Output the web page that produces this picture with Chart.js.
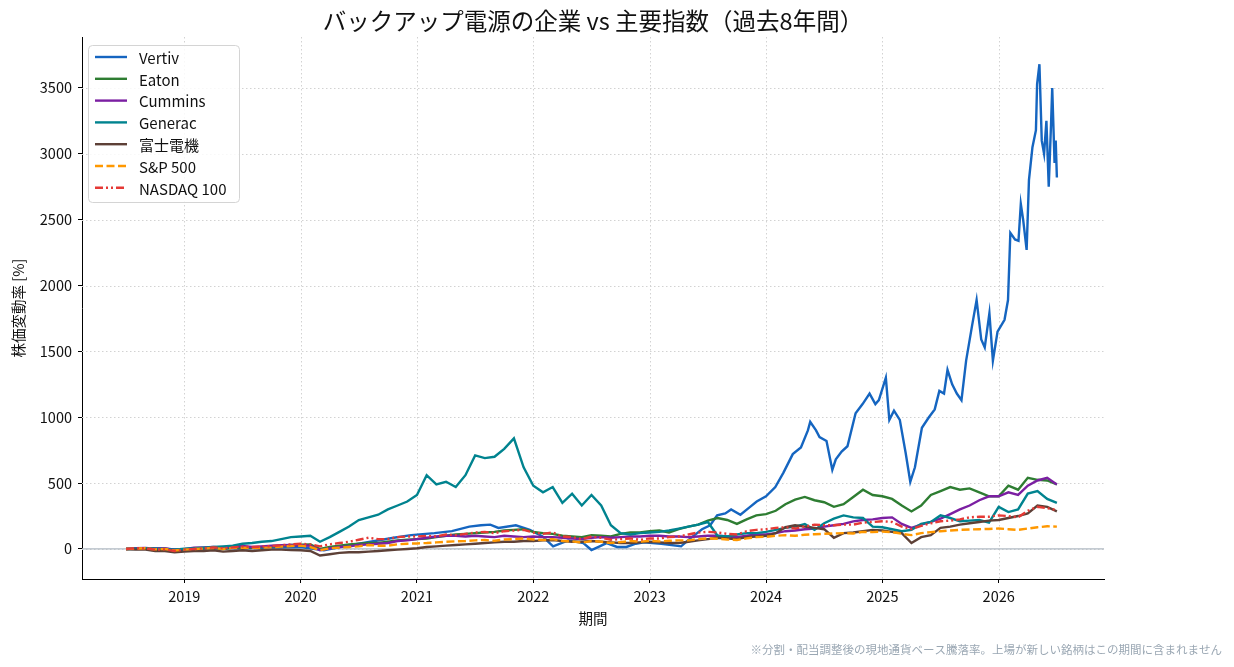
<!DOCTYPE html>
<html lang="ja">
<head>
<meta charset="utf-8">
<title>バックアップ電源の企業 vs 主要指数</title>
<script src="https://cdn.jsdelivr.net/npm/chart.js@4.4.1/dist/chart.umd.min.js"></script>
<style>
  html, body { margin: 0; padding: 0; background: #fff; }
  #wrap { width: 1234px; height: 667px; }
</style>
</head>
<body>
<div id="wrap"><canvas id="grafico" width="1234" height="667"></canvas></div>
<script>
// Eixo de tempo mensal: jul/2018 .. jul/2026 (anos decimais)
const meses = [];
for (let i = 0; i <= 96; i++) meses.push(2018.5 + i / 12);

const anosTicks = [2019, 2020, 2021, 2022, 2023, 2024, 2025, 2026];
const valoresTicksY = [0, 500, 1000, 1500, 2000, 2500, 3000, 3500];

// Vertiv tem mais pontos (muito volátil no fim)
const vertivDatas = [
  2018.5, 2018.75, 2018.96, 2019.25, 2019.5, 2019.75, 2020.0, 2020.2, 2020.4, 2020.6,
  2020.8, 2020.95, 2021.15, 2021.3, 2021.45, 2021.55, 2021.63, 2021.7, 2021.85, 2021.97,
  2022.08, 2022.17, 2022.3, 2022.43, 2022.5, 2022.57, 2022.63, 2022.72, 2022.8, 2022.88,
  2022.95, 2023.1, 2023.27, 2023.35, 2023.45, 2023.52, 2023.58, 2023.65, 2023.7, 2023.78,
  2023.85, 2023.92, 2024.0, 2024.08, 2024.15, 2024.23, 2024.3, 2024.36, 2024.38, 2024.43,
  2024.46, 2024.52, 2024.57, 2024.6, 2024.65, 2024.7, 2024.77, 2024.83, 2024.89, 2024.94,
  2024.97, 2025.03, 2025.06, 2025.1, 2025.15, 2025.2, 2025.24, 2025.28, 2025.34, 2025.4,
  2025.45, 2025.49, 2025.53, 2025.56, 2025.6, 2025.64, 2025.68, 2025.72, 2025.77, 2025.81,
  2025.85, 2025.88, 2025.92, 2025.95, 2025.99, 2026.05, 2026.08, 2026.1, 2026.14, 2026.17,
  2026.19, 2026.21, 2026.24, 2026.26, 2026.29, 2026.32, 2026.33, 2026.35, 2026.37, 2026.39,
  2026.41, 2026.43, 2026.45, 2026.46, 2026.48, 2026.49, 2026.5
];
const vertivValores = [
  0, 3, -5, 5, 5, 10, 15, -10, 25, 55,
  85, 105, 120, 135, 170, 180, 185, 160, 180, 145,
  95, 20, 65, 45, -8, 20, 45, 15, 15, 40,
  50, 40, 20, 80, 150, 180, 255, 270, 300, 260,
  310, 360, 400, 470, 580, 720, 770, 900, 965, 900,
  850, 820, 600, 680, 740, 780, 1030, 1100, 1180, 1100,
  1130, 1300, 980, 1050, 980, 730, 510, 620, 920, 1000,
  1060, 1200, 1180, 1360, 1250, 1180, 1130, 1430, 1690, 1890,
  1590, 1530, 1790, 1430, 1650, 1740, 1890, 2400, 2350, 2340,
  2620, 2500, 2270, 2800, 3050, 3180, 3530, 3680, 3100, 3000,
  3250, 2750, 3230, 3500, 2930, 3100, 2820
];

// Séries mensais (97 valores cada)
const eaton = [
  0, 2, 5, 0, -3, -10,
  -5, 0, 5, 8, 0, 10, 12, 10, 15, 20, 25, 30,
  32, 35, 0, 15, 25, 35, 40, 45, 45, 55, 65, 70,
  75, 80, 90, 100, 110, 115, 120, 125, 130, 140, 145, 150,
  130, 120, 115, 100, 95, 90, 105, 100, 95, 115, 125, 125,
  135, 140, 125, 150, 170, 185, 215, 235, 220, 190, 225, 255,
  265, 290, 340, 375, 395, 370, 355, 320, 340, 395, 450, 410,
  400, 380, 330, 285, 330, 410, 440, 470, 450, 460, 430, 400,
  400, 480, 450, 540, 525, 520, 490
];
const cummins = [
  0, 5, 8, 3, 5, -5,
  -2, 10, 12, 15, 10, 18, 22, 15, 20, 25, 28, 30,
  28, 25, -10, 5, 15, 20, 30, 35, 40, 45, 60, 65,
  75, 85, 95, 100, 100, 95, 100, 95, 90, 100, 95, 90,
  95, 90, 90, 85, 80, 75, 85, 90, 85, 90, 95, 95,
  100, 100, 95, 95, 90, 95, 100, 100, 95, 90, 100, 110,
  110, 120, 135, 140, 150, 155, 170, 180, 190, 210, 220, 225,
  235, 240, 190, 160, 185, 205, 230, 265, 300, 330, 370, 400,
  400, 430, 410, 480, 520, 540, 490
];
const generac = [
  0, 3, 5, 2, 0, -5,
  2, 5, 10, 15, 20, 25, 40, 45, 55, 60, 75, 90,
  95, 100, 55, 90, 130, 170, 220, 240, 260, 300, 330, 360,
  410, 560, 490, 510, 470, 560, 710, 690, 700, 760, 840, 620,
  480, 430, 470, 350, 420, 330, 410, 330, 180, 120, 110, 120,
  125, 130, 140, 155, 170, 185, 205, 100, 95, 110, 120, 120,
  130, 145, 160, 170, 190, 145, 195, 230, 255, 240, 235, 170,
  165, 150, 135, 145, 190, 205, 255, 235, 210, 215, 220, 200,
  320, 280, 300, 420, 440, 380, 350
];
const fuji = [
  0, -5, -5, -15, -15, -25,
  -20, -15, -15, -10, -20, -15, -10, -15, -10, -5, -5, -8,
  -10, -15, -50, -40, -30, -25, -25, -20, -15, -10, -5, 0,
  5, 15, 20, 25, 30, 35, 40, 45, 50, 55, 55, 60,
  60, 65, 68, 60, 55, 55, 60, 55, 50, 45, 45, 50,
  55, 50, 45, 45, 55, 65, 75, 85, 80, 75, 90, 95,
  100, 120, 165, 180, 170, 160, 150, 85, 120, 125, 135, 145,
  140, 130, 120, 45, 90, 105, 160, 170, 185, 195, 205, 215,
  220, 235, 250, 270, 330, 320, 285
];
const sp500 = [
  0, 3, 5, -3, 0, -12,
  -5, 0, 3, 8, 0, 8, 10, 8, 10, 12, 18, 22,
  25, 15, -10, 5, 10, 15, 20, 30, 25, 25, 35, 40,
  42, 45, 50, 55, 58, 60, 65, 68, 62, 72, 75, 80,
  72, 68, 75, 60, 58, 48, 60, 55, 45, 52, 60, 55,
  62, 58, 62, 65, 65, 75, 80, 78, 72, 68, 80, 90,
  92, 100, 105, 100, 108, 112, 115, 118, 120, 118, 130, 128,
  132, 128, 115, 105, 120, 128, 135, 140, 145, 148, 150, 152,
  155, 150, 145, 155, 165, 172, 170
];
const nasdaq100 = [
  0, 5, 5, -5, -3, -15,
  -5, 0, 5, 12, 5, 12, 18, 15, 18, 22, 28, 35,
  40, 35, 20, 35, 45, 55, 70, 85, 75, 75, 90, 95,
  95, 100, 95, 110, 105, 115, 125, 130, 120, 135, 140, 145,
  125, 115, 125, 95, 90, 75, 95, 85, 70, 75, 80, 70,
  80, 80, 90, 95, 110, 125, 130, 125, 115, 110, 135, 145,
  150, 160, 165, 155, 170, 185, 180, 180, 185, 185, 200, 205,
  210, 205, 170, 150, 175, 195, 210, 215, 225, 240, 245, 245,
  255, 250, 240, 290, 320, 310, 295
];

const FONTE = '"Noto Sans CJK JP", "Noto Sans", sans-serif';

function pontos(xs, ys) {
  return ys.map((v, i) => ({ x: xs[i], y: v }));
}

const series = [
  { label: 'Vertiv', data: pontos(vertivDatas, vertivValores), cor: '#1565C0', dash: [] },
  { label: 'Eaton', data: pontos(meses, eaton), cor: '#2E7D32', dash: [] },
  { label: 'Cummins', data: pontos(meses, cummins), cor: '#7B1FA2', dash: [] },
  { label: 'Generac', data: pontos(meses, generac), cor: '#00838F', dash: [] },
  { label: '富士電機', data: pontos(meses, fuji), cor: '#5D4037', dash: [] },
  { label: 'S&P 500', data: pontos(meses, sp500), cor: '#FF9800', dash: [8, 3.5] },
  { label: 'NASDAQ 100', data: pontos(meses, nasdaq100), cor: '#E53935', dash: [8, 3, 2, 3, 2, 3] }
];

// Grade pontilhada, linha do zero, títulos e legenda
const extras = {
  id: 'extras',
  beforeDatasetsDraw(chart) {
    const { ctx, chartArea: a, scales: { x, y } } = chart;
    ctx.save();
    ctx.strokeStyle = '#d2d2d2';
    ctx.lineWidth = 1;
    ctx.setLineDash([1.5, 2.5]);
    anosTicks.forEach(ano => {
      const px = Math.round(x.getPixelForValue(ano)) + 0.5;
      ctx.beginPath(); ctx.moveTo(px, a.top); ctx.lineTo(px, a.bottom); ctx.stroke();
    });
    valoresTicksY.forEach(v => {
      const py = Math.round(y.getPixelForValue(v)) + 0.5;
      ctx.beginPath(); ctx.moveTo(a.left, py); ctx.lineTo(a.right, py); ctx.stroke();
    });
    ctx.setLineDash([]);
    ctx.strokeStyle = '#b0bac3';
    ctx.lineWidth = 1.2;
    const zero = y.getPixelForValue(0);
    ctx.beginPath(); ctx.moveTo(a.left, zero); ctx.lineTo(a.right, zero); ctx.stroke();
    ctx.restore();
  },
  afterDraw(chart) {
    const { ctx, chartArea: a } = chart;
    ctx.save();
    ctx.fillStyle = '#111';
    ctx.textAlign = 'center';
    ctx.textBaseline = 'middle';
    ctx.font = '23.5px ' + FONTE;
    ctx.fillText('バックアップ電源の企業 vs 主要指数（過去8年間）', (a.left + a.right) / 2, 21);

    ctx.font = '14.5px ' + FONTE;
    ctx.fillText('期間', (a.left + a.right) / 2, 618);
    ctx.save();
    ctx.translate(18, (a.top + a.bottom) / 2);
    ctx.rotate(-Math.PI / 2);
    ctx.fillText('株価変動率 [%]', 0, 0);
    ctx.restore();

    ctx.fillStyle = '#9aa7b3';
    ctx.font = '11.5px ' + FONTE;
    ctx.textAlign = 'right';
    ctx.fillText('※分割・配当調整後の現地通貨ベース騰落率。上場が新しい銘柄はこの期間に含まれません', 1222, 650);

    // legenda
    const lx = 88.5, ly = 45.5, lw = 151, lh = 157;
    ctx.fillStyle = 'rgba(255,255,255,0.85)';
    ctx.strokeStyle = '#d4d4d4';
    ctx.lineWidth = 1;
    ctx.beginPath();
    ctx.roundRect(lx, ly, lw, lh, 4);
    ctx.fill();
    ctx.stroke();
    ctx.font = '15px ' + FONTE;
    ctx.textAlign = 'left';
    series.forEach((s, i) => {
      const yy = 57 + i * 21.8;
      ctx.strokeStyle = s.cor;
      ctx.lineWidth = 2.4;
      ctx.setLineDash(s.dash);
      ctx.beginPath(); ctx.moveTo(95, yy); ctx.lineTo(127, yy); ctx.stroke();
      ctx.setLineDash([]);
      ctx.fillStyle = '#111';
      ctx.fillText(s.label, 139, yy + 1);
    });
    ctx.restore();
  }
};

const ctx = document.getElementById('grafico').getContext('2d');
new Chart(ctx, {
  type: 'line',
  data: {
    datasets: series.map((s, i) => ({
      label: s.label,
      data: s.data,
      borderColor: s.cor,
      backgroundColor: s.cor,
      borderWidth: 2.4,
      borderDash: s.dash,
      pointRadius: 0,
      tension: 0,
      fill: false,
      order: series.length - i
    }))
  },
  options: {
    responsive: false,
    animation: false,
    layout: { padding: { left: 0, top: 37, right: 130, bottom: 0 } },
    plugins: {
      legend: { display: false },
      title: { display: false },
      tooltip: { enabled: false }
    },
    scales: {
      x: {
        type: 'linear',
        min: 2018.121,
        max: 2026.905,
        afterFit: s => { s.height = 88; },
        afterBuildTicks: s => { s.ticks = anosTicks.map(v => ({ value: v })); },
        ticks: {
          color: '#111',
          font: { family: FONTE, size: 14.5 },
          padding: 5,
          maxRotation: 0,
          callback: v => String(v)
        },
        grid: { drawOnChartArea: false, drawTicks: true, tickLength: 4, tickColor: '#000', tickWidth: 1 },
        border: { color: '#000', width: 1 }
      },
      y: {
        type: 'linear',
        min: -228,
        max: 3887,
        afterFit: s => { s.width = 82; },
        afterBuildTicks: s => { s.ticks = valoresTicksY.map(v => ({ value: v })); },
        ticks: {
          color: '#111',
          font: { family: FONTE, size: 14.5 },
          padding: 6,
          callback: v => String(v)
        },
        grid: { drawOnChartArea: false, drawTicks: true, tickLength: 4, tickColor: '#000', tickWidth: 1 },
        border: { color: '#000', width: 1 }
      }
    }
  },
  plugins: [extras]
});
</script>
</body>
</html>
